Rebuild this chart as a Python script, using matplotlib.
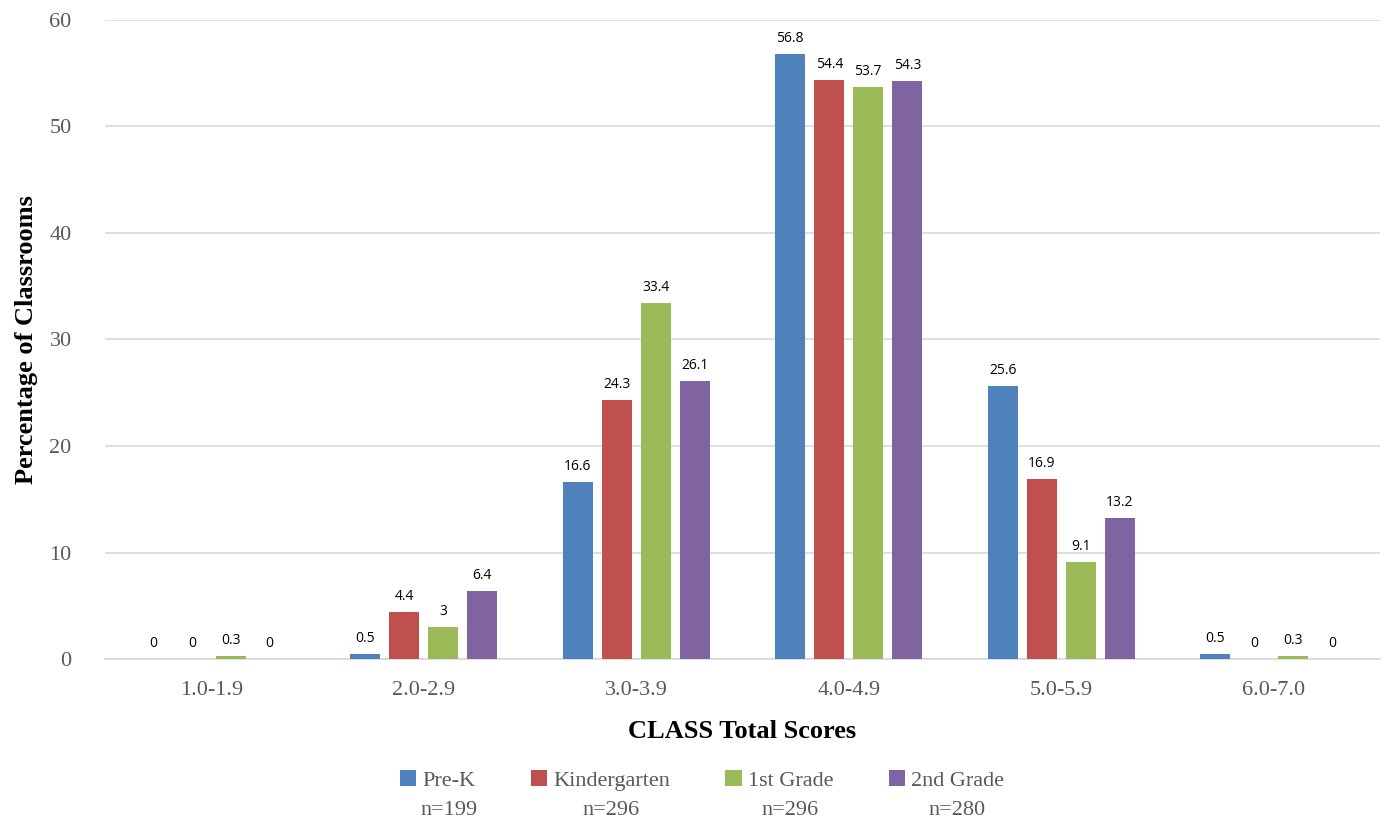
import numpy as np
import matplotlib
matplotlib.use("Agg")
import matplotlib.pyplot as plt

# data
categories = ['1.0-1.9', '2.0-2.9', '3.0-3.9', '4.0-4.9', '5.0-5.9', '6.0-7.0']
series = ['Pre-K', 'Kindergarten', '1st Grade', '2nd Grade']
counts = ['n=199', 'n=296', 'n=296', 'n=280']
prek = [0, 0.5, 16.6, 56.8, 25.6, 0.5]
kinder = [0, 4.4, 24.3, 54.4, 16.9, 0]
first = [0.3, 3, 33.4, 53.7, 9.1, 0.3]
second = [0, 6.4, 26.1, 54.3, 13.2, 0]
colors = ['#4F81BD', '#C0504D', '#9BBB59', '#8064A2']

serif = 'Liberation Serif'
sans = 'Open Sans'

fig = plt.figure(figsize=(13.87, 8.25), dpi=100)
ax = fig.add_axes([0.0757, 0.2012, 0.9193, 0.7746])

x = np.arange(len(categories))
pitch = 0.1835
width = 0.141
for i, (vals, name, col) in enumerate(zip([prek, kinder, first, second], series, colors)):
    pos = x + (i - 1.5) * pitch
    ax.bar(pos, vals, width, color=col, label=name, zorder=3)
    for xp, v in zip(pos, vals):
        ax.text(xp, v + 0.75, '%g' % v, ha='center', va='bottom', fontsize=10,
                family=sans, color='#000000')

ax.set_xlim(-0.5, len(categories) - 0.5)
ax.set_ylim(0, 60)
ax.set_yticks(range(0, 61, 10))
ax.yaxis.grid(True, color='#d9d9d9', linewidth=1.2, zorder=0)
ax.set_axisbelow(True)
for s in ['top', 'right', 'left']:
    ax.spines[s].set_visible(False)
ax.spines['bottom'].set_color('#d9d9d9')
ax.spines['bottom'].set_linewidth(1.2)
ax.tick_params(axis='both', length=0, labelcolor='#595959', labelsize=16)
ax.tick_params(axis='y', pad=24)
ax.tick_params(axis='x', pad=16)
ax.set_xticks(x)
ax.set_xticklabels(categories, family=serif)
for t in ax.get_yticklabels():
    t.set_family(serif)

ax.set_xlabel('CLASS Total Scores', family=serif, fontsize=19, fontweight='bold', labelpad=14)
ax.set_ylabel('Percentage of Classrooms', family=serif, fontsize=19, fontweight='bold', labelpad=8)

leg = fig.legend(loc='center', bbox_to_anchor=(0.506, 0.054), ncol=4, frameon=False,
                 prop={'family': serif, 'size': 16}, handlelength=0.75, handleheight=0.75,
                 handletextpad=0.25, columnspacing=2.5, labelcolor='#595959')

# the n= line sits centred under each legend name
fig.canvas.draw()
r = fig.canvas.get_renderer()
for t, n in zip(leg.get_texts(), counts):
    bb = t.get_window_extent(r).transformed(fig.transFigure.inverted())
    fig.text((bb.x0 + bb.x1) / 2, bb.y0 - 0.012, n, ha='center', va='top',
             family=serif, fontsize=16, color='#595959')

fig.savefig('out.png', dpi=100)
